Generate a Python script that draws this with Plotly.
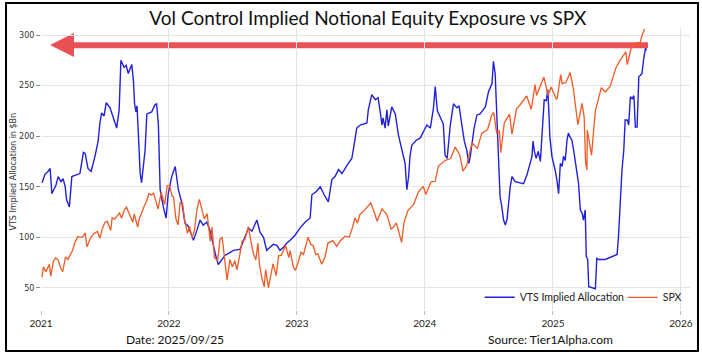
import plotly.graph_objects as go

# ---------------- data ----------------
vts_dates = [
    "2021-01-04", "2021-01-12", "2021-01-21", "2021-01-27", "2021-02-01", "2021-02-07", "2021-02-13",
    "2021-02-19", "2021-02-27", "2021-03-05", "2021-03-11", "2021-03-15", "2021-03-23", "2021-03-30",
    "2021-04-08", "2021-04-22", "2021-05-02", "2021-05-07", "2021-05-15", "2021-05-24", "2021-06-04",
    "2021-06-13", "2021-06-18", "2021-06-23", "2021-06-30", "2021-07-06", "2021-07-17", "2021-07-26",
    "2021-08-05", "2021-08-12", "2021-08-17", "2021-08-26", "2021-09-01", "2021-09-07", "2021-09-17",
    "2021-09-22", "2021-09-25", "2021-09-29", "2021-10-02", "2021-10-06", "2021-10-11", "2021-10-15",
    "2021-10-21", "2021-10-25", "2021-10-30", "2021-11-13", "2021-11-22", "2021-11-27", "2021-12-02",
    "2021-12-05", "2021-12-07", "2021-12-16", "2021-12-24", "2021-12-30", "2022-01-09", "2022-01-19",
    "2022-01-28", "2022-02-07", "2022-02-16", "2022-02-25", "2022-03-12", "2022-03-22", "2022-03-31",
    "2022-04-09", "2022-04-19", "2022-04-28", "2022-05-08", "2022-05-16", "2022-05-22", "2022-06-01",
    "2022-06-10", "2022-06-20", "2022-07-04", "2022-07-23", "2022-08-06", "2022-08-16", "2022-08-26",
    "2022-09-09", "2022-09-18", "2022-09-28", "2022-10-07", "2022-10-17", "2022-10-26", "2022-11-05",
    "2022-11-14", "2022-11-24", "2022-12-03", "2022-12-13", "2022-12-27", "2023-01-10", "2023-01-25",
    "2023-02-08", "2023-02-13", "2023-02-25", "2023-03-09", "2023-03-20", "2023-04-01", "2023-04-11",
    "2023-04-20", "2023-04-30", "2023-05-10", "2023-05-24", "2023-06-07", "2023-06-11", "2023-06-21",
    "2023-07-01", "2023-07-20", "2023-07-24", "2023-08-03", "2023-08-13", "2023-08-21", "2023-08-27",
    "2023-09-01", "2023-09-04", "2023-09-10", "2023-09-15", "2023-09-19", "2023-09-29", "2023-10-09",
    "2023-10-18", "2023-10-28", "2023-11-06", "2023-11-11", "2023-11-16", "2023-11-20", "2023-11-25",
    "2023-12-08", "2023-12-19", "2024-01-07", "2024-01-17", "2024-01-26", "2024-01-31", "2024-02-06",
    "2024-02-14", "2024-02-23", "2024-02-28", "2024-03-05", "2024-03-14", "2024-03-23", "2024-04-02",
    "2024-04-08", "2024-04-16", "2024-04-23", "2024-04-30", "2024-05-06", "2024-05-10", "2024-05-15",
    "2024-05-21", "2024-05-29", "2024-06-07", "2024-06-22", "2024-07-01", "2024-07-11", "2024-07-15",
    "2024-07-20", "2024-07-25", "2024-07-30", "2024-08-03", "2024-08-08", "2024-08-13", "2024-08-18",
    "2024-08-23", "2024-09-01", "2024-09-06", "2024-09-15", "2024-09-29", "2024-10-09", "2024-10-19",
    "2024-10-23", "2024-10-28", "2024-11-02", "2024-11-05", "2024-11-09", "2024-11-14", "2024-11-20",
    "2024-11-26", "2024-12-01", "2024-12-03", "2024-12-07", "2024-12-13", "2024-12-17", "2024-12-20",
    "2024-12-23", "2024-12-29", "2025-01-03", "2025-01-08", "2025-01-12", "2025-01-17", "2025-01-22",
    "2025-01-27", "2025-01-31", "2025-02-05", "2025-02-10", "2025-02-14", "2025-02-19", "2025-02-24",
    "2025-03-01", "2025-03-06", "2025-03-15", "2025-03-20", "2025-03-25", "2025-03-29", "2025-04-03",
    "2025-04-06", "2025-04-10", "2025-04-13", "2025-04-23", "2025-05-02", "2025-05-06", "2025-05-11",
    "2025-05-30", "2025-06-13", "2025-07-03", "2025-07-07", "2025-07-12", "2025-07-17", "2025-07-22",
    "2025-07-26", "2025-08-01", "2025-08-05", "2025-08-10", "2025-08-15", "2025-08-20", "2025-08-24",
    "2025-08-29", "2025-08-31", "2025-09-03", "2025-09-07", "2025-09-12", "2025-09-17", "2025-09-22",
    "2025-09-25",
]
vts_values = [
    154, 162, 165, 168, 143, 148, 152,
    160, 155, 158, 150, 137, 130, 160,
    161, 163, 184, 183, 168, 165, 180,
    195, 213, 223, 220, 233, 228, 219,
    208, 226, 275, 268, 270, 262, 271,
    254, 232, 224, 230, 201, 163, 154,
    170, 186, 222, 224, 231, 232, 211,
    172, 147, 130, 119, 143, 160, 170,
    147, 134, 114, 111, 97, 107, 117,
    112, 115, 107, 91, 80, 73, 78,
    82, 84, 87, 88, 100, 109, 106,
    117, 105, 100, 87, 90, 93, 92,
    87, 90, 94, 97, 102, 109, 115,
    119, 142, 145, 150, 142, 135, 157,
    160, 167, 163, 171, 178, 186, 208,
    211, 213, 226, 241, 236, 238, 224,
    211, 218, 208, 226, 210, 229, 222,
    201, 186, 173, 147, 160, 180, 191,
    196, 198, 211, 208, 228, 249, 225,
    218, 212, 181, 178, 211, 232, 228,
    230, 211, 195, 186, 173, 180, 195,
    208, 221, 222, 229, 244, 252, 274,
    262, 224, 185, 140, 130, 117, 112,
    118, 150, 160, 155, 154, 153, 162,
    167, 172, 180, 195, 185, 178, 185,
    175, 208, 218, 236, 235, 246, 226,
    200, 180, 173, 165, 157, 143, 173,
    170, 180, 176, 196, 203, 199, 196,
    186, 173, 153, 127, 124, 117, 127,
    81, 78, 51, 50, 49, 79, 78,
    78, 80, 83, 101, 140, 167, 186,
    216, 216, 211, 239, 237, 240, 209,
    209, 235, 259, 260, 262, 277, 287,
    285,
]

spx_dates = [
    "2021-01-04", "2021-01-08", "2021-01-15", "2021-01-25", "2021-01-29", "2021-02-05", "2021-02-12",
    "2021-02-19", "2021-02-26", "2021-03-04", "2021-03-12", "2021-03-19", "2021-03-26", "2021-04-01",
    "2021-04-09", "2021-04-16", "2021-04-23", "2021-04-30", "2021-05-07", "2021-05-12", "2021-05-21",
    "2021-05-28", "2021-06-04", "2021-06-11", "2021-06-18", "2021-06-25", "2021-07-02", "2021-07-09",
    "2021-07-19", "2021-07-23", "2021-07-30", "2021-08-06", "2021-08-13", "2021-08-19", "2021-08-27",
    "2021-09-02", "2021-09-10", "2021-09-20", "2021-09-24", "2021-10-04", "2021-10-08", "2021-10-15",
    "2021-10-22", "2021-10-29", "2021-11-05", "2021-11-12", "2021-11-18", "2021-11-26", "2021-12-01",
    "2021-12-10", "2021-12-20", "2021-12-27", "2022-01-03", "2022-01-10", "2022-01-14", "2022-01-21",
    "2022-01-27", "2022-02-02", "2022-02-09", "2022-02-14", "2022-02-23", "2022-03-01", "2022-03-08",
    "2022-03-15", "2022-03-22", "2022-03-29", "2022-04-05", "2022-04-12", "2022-04-20", "2022-04-26",
    "2022-04-29", "2022-05-04", "2022-05-11", "2022-05-20", "2022-05-27", "2022-06-02", "2022-06-10",
    "2022-06-16", "2022-06-24", "2022-07-01", "2022-07-08", "2022-07-14", "2022-07-22", "2022-07-29",
    "2022-08-05", "2022-08-16", "2022-08-23", "2022-08-30", "2022-09-06", "2022-09-12", "2022-09-16",
    "2022-09-23", "2022-09-30", "2022-10-04", "2022-10-12", "2022-10-18", "2022-10-25", "2022-11-03",
    "2022-11-10", "2022-11-18", "2022-11-30", "2022-12-09", "2022-12-13", "2022-12-22", "2022-12-28",
    "2023-01-06", "2023-01-13", "2023-01-20", "2023-01-27", "2023-02-02", "2023-02-10", "2023-02-17",
    "2023-02-24", "2023-03-02", "2023-03-13", "2023-03-22", "2023-03-31", "2023-04-14", "2023-04-25",
    "2023-05-05", "2023-05-19", "2023-05-31", "2023-06-09", "2023-06-16", "2023-06-23", "2023-06-30",
    "2023-07-14", "2023-07-31", "2023-08-11", "2023-08-18", "2023-09-01", "2023-09-15", "2023-09-27",
    "2023-10-06", "2023-10-12", "2023-10-20", "2023-10-27", "2023-11-03", "2023-11-14", "2023-11-30",
    "2023-12-14", "2023-12-28", "2024-01-04", "2024-01-19", "2024-01-31", "2024-02-09", "2024-02-29",
    "2024-03-15", "2024-03-28", "2024-04-10", "2024-04-19", "2024-04-30", "2024-05-15", "2024-05-30",
    "2024-06-12", "2024-06-28", "2024-07-10", "2024-07-16", "2024-07-24", "2024-08-01", "2024-08-05",
    "2024-08-15", "2024-08-30", "2024-09-06", "2024-09-19", "2024-09-30", "2024-10-18", "2024-10-31",
    "2024-11-11", "2024-11-15", "2024-11-29", "2024-12-06", "2024-12-18", "2024-12-27", "2025-01-10",
    "2025-01-13", "2025-01-23", "2025-01-27", "2025-02-07", "2025-02-19", "2025-02-28", "2025-03-10",
    "2025-03-13", "2025-03-25", "2025-03-31", "2025-04-04", "2025-04-08", "2025-04-09", "2025-04-16",
    "2025-04-21", "2025-05-02", "2025-05-12", "2025-05-19", "2025-05-30", "2025-06-13", "2025-06-30",
    "2025-07-10", "2025-07-28", "2025-08-01", "2025-08-14", "2025-08-22", "2025-08-28", "2025-09-05",
    "2025-09-12", "2025-09-19",
]
spx_values = [
    3700, 3824, 3768, 3855, 3714, 3886, 3934,
    3906, 3811, 3768, 3943, 3913, 3975, 4020,
    4129, 4185, 4180, 4181, 4232, 4063, 4156,
    4204, 4230, 4247, 4166, 4281, 4352, 4370,
    4258, 4411, 4395, 4437, 4468, 4406, 4509,
    4537, 4459, 4358, 4455, 4300, 4391, 4471,
    4545, 4605, 4697, 4683, 4704, 4595, 4513,
    4712, 4568, 4791, 4796, 4670, 4663, 4398,
    4326, 4589, 4587, 4401, 4225, 4306, 4170,
    4262, 4512, 4631, 4525, 4397, 4460, 4175,
    4132, 4300, 3935, 3901, 4158, 4176, 3900,
    3666, 3912, 3825, 3899, 3790, 3962, 4130,
    4145, 4305, 4128, 3986, 3908, 4110, 3873,
    3693, 3585, 3791, 3577, 3720, 3859, 3720,
    3956, 3965, 4080, 3934, 4019, 3822, 3783,
    3895, 3999, 3972, 4070, 4179, 4090, 4079,
    3970, 3981, 3855, 3937, 4109, 4137, 4071,
    4136, 4191, 4180, 4299, 4410, 4348, 4450,
    4505, 4589, 4464, 4370, 4516, 4450, 4275,
    4308, 4349, 4224, 4117, 4358, 4496, 4568,
    4720, 4783, 4688, 4840, 4846, 5027, 5096,
    5117, 5254, 5161, 4967, 5036, 5308, 5236,
    5421, 5460, 5633, 5667, 5427, 5446, 5186,
    5543, 5648, 5408, 5713, 5762, 5864, 5705,
    6001, 5870, 6032, 6090, 5872, 5970, 5827,
    5836, 6119, 6012, 6026, 6144, 5955, 5615,
    5521, 5776, 5612, 5074, 4983, 5457, 5276,
    5158, 5687, 5844, 5963, 5912, 5977, 6205,
    6280, 6390, 6238, 6469, 6467, 6502, 6482,
    6584, 6664,
]

year_ticks = ["2021-01-01", "2022-01-01", "2023-01-01", "2024-01-01", "2025-01-01", "2026-01-01"]
year_labels = ["2021", "2022", "2023", "2024", "2025", "2026"]
y_ticks = [50, 100, 150, 200, 250, 300]

title_text = "Vol Control Implied Notional Equity Exposure vs SPX"
y_title = "VTS Implied Allocation in $Bn"
date_text = "Date: 2025/09/25"
source_text = "Source: Tier1Alpha.com"

# ---------------- figure ----------------
COND = "Lato, sans-serif"

fig = go.Figure()
fig.add_trace(go.Scatter(x=vts_dates, y=vts_values, mode="lines", name="VTS Implied Allocation",
                         line=dict(color="#2020dd", width=1.4)))
fig.add_trace(go.Scatter(x=spx_dates, y=spx_values, mode="lines", name="SPX", yaxis="y2",
                         line=dict(color="#f25a24", width=1.3)))

fig.update_layout(
    width=702, height=360,
    margin=dict(l=41, r=12, t=28, b=50, autoexpand=False),
    paper_bgcolor="white", plot_bgcolor="white",
    title=dict(text=title_text, x=0.524, xanchor="center", y=0.95, yanchor="middle",
               font=dict(family=COND, size=19, color="#111")),
    xaxis=dict(range=["2021-01-01", "2026-01-27"], tickvals=year_ticks, ticktext=year_labels,
               showgrid=True, gridcolor="#e4e4e4", gridwidth=1, zeroline=False, showline=False,
               ticks="outside", ticklen=4, tickcolor="#bbbbbb",
               tickfont=dict(family=COND, size=10, color="#222")),
    yaxis=dict(range=[28, 307], tickvals=y_ticks, showgrid=True, gridcolor="#e4e4e4",
               zeroline=False, showline=False, ticks="outside", ticklen=4, tickcolor="#888",
               tickfont=dict(family="DejaVu Sans", size=8, color="#333")),
    yaxis2=dict(range=[3310, 6675], overlaying="y", side="right", visible=False, showgrid=False),
    legend=dict(orientation="h", x=0.676, y=0.045, xanchor="left", yanchor="middle",
                bgcolor="rgba(255,255,255,0)", font=dict(family=COND, size=10.5, color="#222"),
                itemwidth=30, entrywidth=98, entrywidthmode="pixels"),
    showlegend=True,
)

# y axis title
fig.add_annotation(text=y_title, xref="paper", yref="paper", x=-0.0416, y=0.491,
                   textangle=-90, showarrow=False, xanchor="center", yanchor="middle",
                   font=dict(family="DejaVu Sans", size=8, color="#333"))
# footer texts
fig.add_annotation(text=date_text, xref="paper", yref="paper", x=0.2065, y=-0.103,
                   showarrow=False, xanchor="center", yanchor="middle",
                   font=dict(family=COND, size=12, color="#111"))
fig.add_annotation(text=source_text, xref="paper", yref="paper", x=0.7858, y=-0.103,
                   showarrow=False, xanchor="center", yanchor="middle",
                   font=dict(family=COND, size=12, color="#111"))

# big red arrow (paper coordinates), drawn between the grid and the lines
arrow_color = "rgba(232,72,77,0.95)"
fig.add_shape(type="rect", xref="paper", yref="paper", x0=0.0493, x1=0.9353, y0=0.928, y1=0.9493,
              fillcolor=arrow_color, line=dict(width=0), layer="between")
fig.add_shape(type="path", xref="paper", yref="paper",
              path="M 0.0139 0.9397 L 0.0508 0.9823 L 0.0508 0.8972 Z",
              fillcolor=arrow_color, line=dict(width=0), layer="between")
# outer frame
fig.add_shape(type="rect", xref="paper", yref="paper", x0=-0.0539, x1=1.0123, y0=-0.1454, y1=1.0887,
              line=dict(color="black", width=2), fillcolor="rgba(0,0,0,0)", layer="above")

fig.write_html("out.html", config={"displayModeBar": False},
               post_script="document.body.style.margin='0';")
